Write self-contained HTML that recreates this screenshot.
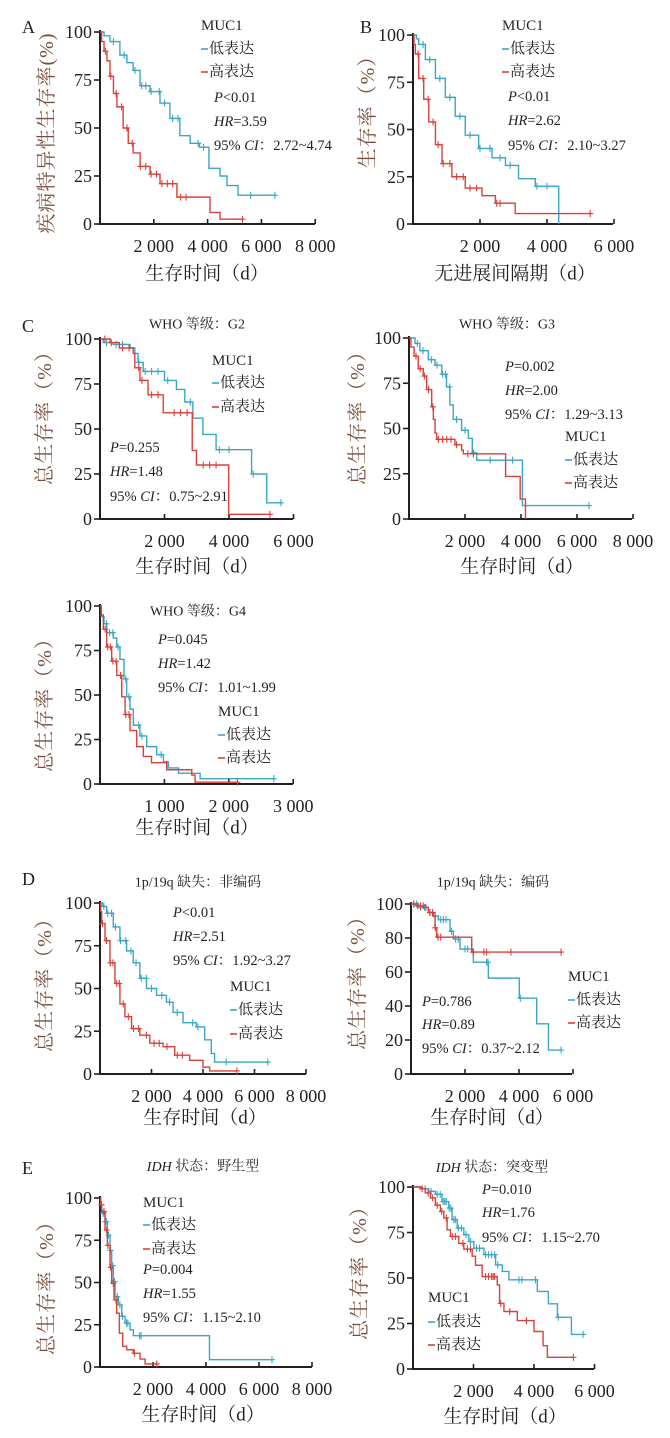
<!DOCTYPE html>
<html><head><meta charset="utf-8">
<style>
html,body{margin:0;padding:0;background:#fff;}
svg{display:block;}
text{font-family:"Liberation Serif","Noto Serif CJK SC",serif;fill:#231f20;}
.tk{font-size:18px;}
.ax{font-size:19px;}
.yt{font-size:20px;fill:#7a4e3c;letter-spacing:1px;}
.lg{font-size:15px;}
.st{font-size:14.5px;}
.tt{font-size:14px;}
.lt{font-size:18px;}
</style></head>
<body>
<svg id="fig" width="670" height="1438" viewBox="0 0 670 1438" xmlns="http://www.w3.org/2000/svg">
<g id="static">
<!-- A -->
<text class="lt" x="22" y="33">A</text>
<text class="yt" transform="translate(47,133) rotate(-90)" text-anchor="middle" dominant-baseline="central">疾病特异性生存率(%)</text>
<text class="ax" x="207" y="274" text-anchor="middle" dominant-baseline="central">生存时间（d）</text>
<text class="lg" x="201" y="26" dominant-baseline="central">MUC1</text>
<line x1="201" y1="49" x2="208" y2="49" stroke="#3aa7c4" stroke-width="1.6"/><text class="lg" x="209" y="49" dominant-baseline="central">低表达</text>
<line x1="201" y1="72" x2="208" y2="72" stroke="#d8423a" stroke-width="1.6"/><text class="lg" x="209" y="72" dominant-baseline="central">高表达</text>
<text class="st" x="214" y="98" dominant-baseline="central"><tspan font-style="italic">P</tspan>&lt;0.01</text>
<text class="st" x="214" y="122" dominant-baseline="central"><tspan font-style="italic">HR</tspan>=3.59</text>
<text class="st" x="214" y="146" dominant-baseline="central">95% <tspan font-style="italic">CI</tspan>：2.72~4.74</text>
<!-- B -->
<text class="lt" x="360" y="33">B</text>
<text class="yt" transform="translate(368,107) rotate(-90)" text-anchor="middle" dominant-baseline="central">生存率（%）</text>
<text class="ax" x="515" y="274" text-anchor="middle" dominant-baseline="central">无进展间隔期（d）</text>
<text class="lg" x="502" y="26" dominant-baseline="central">MUC1</text>
<line x1="502" y1="49" x2="509" y2="49" stroke="#3aa7c4" stroke-width="1.6"/><text class="lg" x="510" y="49" dominant-baseline="central">低表达</text>
<line x1="502" y1="72" x2="509" y2="72" stroke="#d8423a" stroke-width="1.6"/><text class="lg" x="510" y="72" dominant-baseline="central">高表达</text>
<text class="st" x="508" y="97" dominant-baseline="central"><tspan font-style="italic">P</tspan>&lt;0.01</text>
<text class="st" x="508" y="121" dominant-baseline="central"><tspan font-style="italic">HR</tspan>=2.62</text>
<text class="st" x="508" y="146" dominant-baseline="central">95% <tspan font-style="italic">CI</tspan>：2.10~3.27</text>
<!-- C G2 -->
<text class="lt" x="22" y="332">C</text>
<text class="tt" x="197" y="325" text-anchor="middle" dominant-baseline="central">WHO 等级：G2</text>
<text class="yt" transform="translate(45,413) rotate(-90)" text-anchor="middle" dominant-baseline="central">总生存率（%）</text>
<text class="ax" x="197" y="567" text-anchor="middle" dominant-baseline="central">生存时间（d）</text>
<text class="lg" x="212" y="361" dominant-baseline="central">MUC1</text>
<line x1="212" y1="383" x2="219" y2="383" stroke="#3aa7c4" stroke-width="1.6"/><text class="lg" x="220" y="383" dominant-baseline="central">低表达</text>
<line x1="212" y1="407" x2="219" y2="407" stroke="#d8423a" stroke-width="1.6"/><text class="lg" x="220" y="407" dominant-baseline="central">高表达</text>
<text class="st" x="110" y="448" dominant-baseline="central"><tspan font-style="italic">P</tspan>=0.255</text>
<text class="st" x="110" y="472" dominant-baseline="central"><tspan font-style="italic">HR</tspan>=1.48</text>
<text class="st" x="110" y="497" dominant-baseline="central">95% <tspan font-style="italic">CI</tspan>：0.75~2.91</text>
<!-- G3 -->
<text class="tt" x="507" y="325" text-anchor="middle" dominant-baseline="central">WHO 等级：G3</text>
<text class="yt" transform="translate(358,413) rotate(-90)" text-anchor="middle" dominant-baseline="central">总生存率（%）</text>
<text class="ax" x="522" y="567" text-anchor="middle" dominant-baseline="central">生存时间（d）</text>
<text class="st" x="505" y="367" dominant-baseline="central"><tspan font-style="italic">P</tspan>=0.002</text>
<text class="st" x="505" y="391" dominant-baseline="central"><tspan font-style="italic">HR</tspan>=2.00</text>
<text class="st" x="505" y="415" dominant-baseline="central">95% <tspan font-style="italic">CI</tspan>：1.29~3.13</text>
<text class="lg" x="565" y="437" dominant-baseline="central">MUC1</text>
<line x1="565" y1="460" x2="572" y2="460" stroke="#3aa7c4" stroke-width="1.6"/><text class="lg" x="573" y="460" dominant-baseline="central">低表达</text>
<line x1="565" y1="483" x2="572" y2="483" stroke="#d8423a" stroke-width="1.6"/><text class="lg" x="573" y="483" dominant-baseline="central">高表达</text>
<!-- G4 -->
<text class="tt" x="198" y="612" text-anchor="middle" dominant-baseline="central">WHO 等级：G4</text>
<text class="yt" transform="translate(45,700) rotate(-90)" text-anchor="middle" dominant-baseline="central">总生存率（%）</text>
<text class="ax" x="197" y="828" text-anchor="middle" dominant-baseline="central">生存时间（d）</text>
<text class="st" x="158" y="640" dominant-baseline="central"><tspan font-style="italic">P</tspan>=0.045</text>
<text class="st" x="158" y="664" dominant-baseline="central"><tspan font-style="italic">HR</tspan>=1.42</text>
<text class="st" x="158" y="688" dominant-baseline="central">95% <tspan font-style="italic">CI</tspan>：1.01~1.99</text>
<text class="lg" x="218" y="712" dominant-baseline="central">MUC1</text>
<line x1="218" y1="735" x2="225" y2="735" stroke="#3aa7c4" stroke-width="1.6"/><text class="lg" x="226" y="735" dominant-baseline="central">低表达</text>
<line x1="218" y1="758" x2="225" y2="758" stroke="#d8423a" stroke-width="1.6"/><text class="lg" x="226" y="758" dominant-baseline="central">高表达</text>
<!-- D left -->
<text class="lt" x="22" y="885">D</text>
<text class="tt" x="198" y="883" text-anchor="middle" dominant-baseline="central">1p/19q 缺失：非编码</text>
<text class="yt" transform="translate(45,980) rotate(-90)" text-anchor="middle" dominant-baseline="central">总生存率（%）</text>
<text class="ax" x="205" y="1118" text-anchor="middle" dominant-baseline="central">生存时间（d）</text>
<text class="st" x="173" y="913" dominant-baseline="central"><tspan font-style="italic">P</tspan>&lt;0.01</text>
<text class="st" x="173" y="937" dominant-baseline="central"><tspan font-style="italic">HR</tspan>=2.51</text>
<text class="st" x="173" y="961" dominant-baseline="central">95% <tspan font-style="italic">CI</tspan>：1.92~3.27</text>
<text class="lg" x="230" y="987" dominant-baseline="central">MUC1</text>
<line x1="230" y1="1010" x2="237" y2="1010" stroke="#3aa7c4" stroke-width="1.6"/><text class="lg" x="238" y="1010" dominant-baseline="central">低表达</text>
<line x1="230" y1="1034" x2="237" y2="1034" stroke="#d8423a" stroke-width="1.6"/><text class="lg" x="238" y="1034" dominant-baseline="central">高表达</text>
<!-- D right -->
<text class="tt" x="493" y="883" text-anchor="middle" dominant-baseline="central">1p/19q 缺失：编码</text>
<text class="yt" transform="translate(358,978) rotate(-90)" text-anchor="middle" dominant-baseline="central">总生存率（%）</text>
<text class="ax" x="492" y="1118" text-anchor="middle" dominant-baseline="central">生存时间（d）</text>
<text class="st" x="422" y="1002" dominant-baseline="central"><tspan font-style="italic">P</tspan>=0.786</text>
<text class="st" x="422" y="1025" dominant-baseline="central"><tspan font-style="italic">HR</tspan>=0.89</text>
<text class="st" x="422" y="1049" dominant-baseline="central">95% <tspan font-style="italic">CI</tspan>：0.37~2.12</text>
<text class="lg" x="568" y="977" dominant-baseline="central">MUC1</text>
<line x1="568" y1="1000" x2="575" y2="1000" stroke="#3aa7c4" stroke-width="1.6"/><text class="lg" x="576" y="1000" dominant-baseline="central">低表达</text>
<line x1="568" y1="1023" x2="575" y2="1023" stroke="#d8423a" stroke-width="1.6"/><text class="lg" x="576" y="1023" dominant-baseline="central">高表达</text>
<!-- E left -->
<text class="lt" x="22" y="1174">E</text>
<text class="tt" x="203" y="1167" text-anchor="middle" dominant-baseline="central"><tspan font-style="italic">IDH</tspan> 状态：野生型</text>
<text class="yt" transform="translate(47,1283) rotate(-90)" text-anchor="middle" dominant-baseline="central">总生存率（%）</text>
<text class="ax" x="203" y="1415" text-anchor="middle" dominant-baseline="central">生存时间（d）</text>
<text class="lg" x="143" y="1203" dominant-baseline="central">MUC1</text>
<line x1="143" y1="1225" x2="150" y2="1225" stroke="#3aa7c4" stroke-width="1.6"/><text class="lg" x="151" y="1225" dominant-baseline="central">低表达</text>
<line x1="143" y1="1249" x2="150" y2="1249" stroke="#d8423a" stroke-width="1.6"/><text class="lg" x="151" y="1249" dominant-baseline="central">高表达</text>
<text class="st" x="143" y="1270" dominant-baseline="central"><tspan font-style="italic">P</tspan>=0.004</text>
<text class="st" x="143" y="1294" dominant-baseline="central"><tspan font-style="italic">HR</tspan>=1.55</text>
<text class="st" x="143" y="1318" dominant-baseline="central">95% <tspan font-style="italic">CI</tspan>：1.15~2.10</text>
<!-- E right -->
<text class="tt" x="492" y="1168" text-anchor="middle" dominant-baseline="central"><tspan font-style="italic">IDH</tspan> 状态：突变型</text>
<text class="yt" transform="translate(360,1268) rotate(-90)" text-anchor="middle" dominant-baseline="central">总生存率（%）</text>
<text class="ax" x="505" y="1417" text-anchor="middle" dominant-baseline="central">生存时间（d）</text>
<text class="st" x="482" y="1190" dominant-baseline="central"><tspan font-style="italic">P</tspan>=0.010</text>
<text class="st" x="482" y="1213" dominant-baseline="central"><tspan font-style="italic">HR</tspan>=1.76</text>
<text class="st" x="482" y="1238" dominant-baseline="central">95% <tspan font-style="italic">CI</tspan>：1.15~2.70</text>
<text class="lg" x="428" y="1298" dominant-baseline="central">MUC1</text>
<line x1="428" y1="1322" x2="435" y2="1322" stroke="#3aa7c4" stroke-width="1.6"/><text class="lg" x="436" y="1322" dominant-baseline="central">低表达</text>
<line x1="428" y1="1345" x2="435" y2="1345" stroke="#d8423a" stroke-width="1.6"/><text class="lg" x="436" y="1345" dominant-baseline="central">高表达</text>
</g>
</svg>
<script>
// ---- data (days, survival %) ----
const xTicks8000 = [2000, 4000, 6000, 8000];
const xTicks6000 = [2000, 4000, 6000];
const xTicks3000 = [1000, 2000, 3000];
const xLabels8000 = ["2 000", "4 000", "6 000", "8 000"];
const xLabels6000 = ["2 000", "4 000", "6 000"];
const xLabels3000 = ["1 000", "2 000", "3 000"];
const yTicks25 = [0, 25, 50, 75, 100];
const yTicks20 = [0, 20, 40, 60, 80, 100];

const A_lowT = [150,370,740,1000,1230,1490,1860,2230,2600,2970,3350,3700,4050,4460,4720,5130,6500];
const A_lowS = [98,95,88,84,80,72,69,63,55,46,42,40,29,25,20,15,15];
const A_lowC = [500,900,1300,1550,1700,1900,2200,2400,2700,2900,3650,3850,5600,6500];
const A_highT = [60,150,260,370,500,630,860,1050,1230,1490,1860,2230,2860,4090,4460,5320];
const A_highS = [95,90,85,77,68,61,50,42,37,30,26,21,14,6,2.5,2.5];
const A_highC = [200,400,600,800,1000,1200,1500,1700,1900,2100,2300,2500,2700,3000,3200,5300];

const B_lowT = [100,170,370,670,965,1260,1560,1960,2360,2760,3150,3650,4350];
const B_lowS = [98,95,87,77,67,57,47,40,35,31,24,20,0];
const B_lowC = [300,500,800,1100,1400,1700,2000,2300,2600,2900,3700,4000];
const B_highT = [30,70,170,320,470,670,865,1160,1560,2060,2460,3050,5290];
const B_highS = [95,90,77,66,54,42,32,25,19,15,11,5.5,5.5];
const B_highC = [150,300,450,600,750,900,1100,1300,1500,1700,1900,2500,2600,5290];

const G2_lowT = [100,410,930,1080,1180,1340,2000,2370,2630,2880,3190,3600,4700,5170,5610];
const G2_lowS = [98,97,95,92,87,82,77,72,65,56,47,38.5,25,9,9];
const G2_lowC = [200,500,700,1200,1400,1600,1800,2100,2800,3700,4000,4750,5610];
const G2_highT = [310,600,1030,1080,1240,1490,1960,2860,2990,3990,5270];
const G2_highS = [98,95,92,84,77,69,59,38,30,2.6,2.6];
const G2_highC = [150,350,700,900,1200,1300,1600,1800,2300,2500,2700,3200,3400,3600,5270];

const G3_lowT = [214,390,690,930,1170,1340,1460,1580,1880,2120,2260,2420,4050,6430];
const G3_lowS = [97,93,88,85,80,73,63,55,49,44.5,36.5,32.5,7.4,7.4];
const G3_lowC = [300,500,800,1000,1200,1300,1450,1700,2000,2300,2900,3700,6430];
const G3_highT = [70,180,330,510,630,810,870,930,990,1640,1880,1940,3450,3970,4160];
const G3_highS = [95,90,83,79,71.5,62,55,47.5,44,41,38,36,23.5,11,0];
const G3_highC = [250,400,550,700,850,1050,1200,1350,1500,1700,2100,2300];

const G4_lowT = [20,62,104,207,260,310,373,414,466,518,620,725,880,985,1060,1220,1555,2700];
const G4_lowS = [94,90,85,82,77,70,59,49,42,33,27,21,16.5,12.5,9,6,3,3];
const G4_lowC = [100,150,200,280,400,450,600,650,950,2700];
const G4_highT = [20,52,104,181,260,337,390,466,570,673,800,1035,1425,1476,2134];
const G4_highS = [95,87,77,69,61,49,39,30,21,15.5,12,8,5,1,1];
const G4_highC = [80,120,160,200,250,320,400,450,2134];

const D1_lowT = [100,258,516,774,1032,1290,1548,1806,2193,2580,2838,3225,3741,4064,4321,4450,6515];
const D1_lowS = [98,94,86,78,72,65,56,50,46,42,36,30,27.5,20,12,7,7];
const D1_lowC = [150,300,450,600,800,1000,1200,1400,1600,1800,2000,2400,2700,3000,3600,3800,4900,6515];
const D1_highT = [30,65,194,387,580,774,967,1225,1548,1935,2451,2902,3483,4000,4257,5315];
const D1_highS = [95,88,78,65,53,41,33.5,26.6,22.7,18,16,11,8,4,1.8,1.8];
const D1_highC = [100,250,400,500,650,750,900,1100,1300,1500,1800,2100,2300,2600,3000,3200,5315];

const D2_lowT = [270,640,890,1010,1445,1570,1815,2310,2865,4010,4655,5090,5560];
const D2_lowS = [98,95,93,90.8,84,79.4,73.5,65.8,56.4,44.6,29.5,14.1,14.1];
const D2_lowC = [100,200,350,500,700,900,1100,1200,1300,1500,1650,1750,2000,2100,2800,2850,4050,5560];
const D2_highT = [200,457,640,827,890,950,2250,5560];
const D2_highS = [99,98,95,92.7,86,80.5,71.7,71.7];
const D2_highC = [100,250,350,450,550,700,800,900,1000,1100,2300,2700,2800,3700,5560];

const E1_lowT = [30,63,190,277,378,441,504,567,693,819,945,1134,1260,4130,6490];
const E1_lowS = [96,91,86,78,69,60,50.5,41.7,36.7,30,26,22,18.5,4.3,4.3];
const E1_lowC = [50,120,200,250,320,400,480,550,650,750,850,1000,1050,1500,1550,6490];
const E1_highT = [30,63,190,277,378,441,529,630,731,857,1008,1260,1512,1700,2142];
const E1_highS = [96,92,81,72,59,49.5,39.7,31.8,20,12.2,10.2,8.2,4.7,1.8,1.8];
const E1_highC = [60,150,250,300,400,500,600,1300,2142];

const E2_lowT = [298,520,740,961,1182,1293,1460,1680,1845,2011,2343,2730,2950,3171,4110,4475,4774,5237,5624];
const E2_lowS = [99,97.6,96,92,88.4,82,77.4,73.8,70,66.4,62.8,57.2,53.6,49,42.6,35.8,28.4,19,19];
const E2_lowC = [400,600,800,900,1000,1050,1100,1200,1250,1350,1400,1500,1600,1750,1900,2100,2200,2400,2500,2600,2700,2800,3500,3600,4050,4800,5624];
const E2_highT = [250,409,575,740,906,1017,1127,1238,1514,1680,1956,2066,2287,2785,2862,3006,3448,4000,4300,4442,5304];
const E2_highS = [99,96.7,94,90,86.6,83,76.5,72.8,69,65.9,62,57,50.8,46.2,36,31.6,26.6,20.6,12.8,6.4,6.4];
const E2_highC = [300,500,650,800,950,1100,1300,1400,1650,1800,1900,2400,2500,2600,2650,2700,2900,3200,3750,5304];

const BLUE = "#3aa7c4", RED = "#d8423a";
const svg = document.getElementById('fig');
const NS = "http://www.w3.org/2000/svg";
function mk(tag, attrs, parent) {
  const e = document.createElementNS(NS, tag);
  for (const k in attrs) e.setAttribute(k, attrs[k]);
  (parent || svg).appendChild(e);
  return e;
}
function stepVal(T, S, t) {
  let v = 100;
  for (let i = 0; i < T.length; i++) { if (T[i] <= t) v = S[i]; else break; }
  return v;
}
function panel(id, geo, yTicks, xTicks, xLabels, curves) {
  const g = mk('g', {});
  
  
  const xs = t => geo.x0 + t * geo.per;
  const ys = v => geo.yBot - (v / geo.yMax) * (geo.yBot - geo.yTop);
  // axes
  const axes = mk('path', {d: `M${geo.x0},${geo.yTop - 2}V${geo.yBot}H${geo.xEnd}`, fill: 'none', stroke: '#231f20', 'stroke-width': 2}, g);
  
  
  yTicks.forEach(v => {
    mk('line', {x1: geo.x0 - 6, x2: geo.x0, y1: ys(v), y2: ys(v), stroke: '#231f20', 'stroke-width': 1.6}, g);
    const t = mk('text', {x: geo.x0 - 8, y: ys(v), 'text-anchor': 'end', 'dominant-baseline': 'central', class: 'tk'}, g);
    t.textContent = String(v);
    
    
  });
  xTicks.forEach((v, i) => {
    mk('line', {x1: xs(v), x2: xs(v), y1: geo.yBot - 5, y2: geo.yBot, stroke: '#231f20', 'stroke-width': 1.6}, g);
    const t = mk('text', {x: xs(v), y: geo.yBot + 22, 'text-anchor': 'middle', 'dominant-baseline': 'central', class: 'tk'}, g);
    t.textContent = xLabels[i];
    
    
  });
  curves.forEach(c => {
    let d = `M${xs(0)},${ys(100)}`;
    let prev = 100;
    for (let i = 0; i < c.T.length; i++) {
      d += `H${xs(c.T[i])}`;
      if (c.S[i] !== prev) { d += `V${ys(c.S[i])}`; prev = c.S[i]; }
    }
    const p = mk('path', {d: d, fill: 'none', stroke: c.col, 'stroke-width': 1.4}, g);
    
    
    let cd = '';
    c.C.forEach(t => {
      const x = xs(t), y = ys(stepVal(c.T, c.S, t));
      cd += `M${x - 3},${y}H${x + 3}M${x},${y - 3.5}V${y + 3.5}`;
    });
    const cm = mk('path', {d: cd, fill: 'none', stroke: c.col, 'stroke-width': 1.1}, g);
    
    
  });
}
panel('a', {x0:100, per:53.8/2000, xEnd:315, yTop:32, yBot:224, yMax:100}, yTicks25, xTicks8000, xLabels8000,
  [{name:'low', col:BLUE, T:A_lowT, S:A_lowS, C:A_lowC}, {name:'high', col:RED, T:A_highT, S:A_highS, C:A_highC}]);
panel('b', {x0:413, per:67/2000, xEnd:613, yTop:35, yBot:224, yMax:100}, yTicks25, xTicks6000, xLabels6000,
  [{name:'low', col:BLUE, T:B_lowT, S:B_lowS, C:B_lowC}, {name:'high', col:RED, T:B_highT, S:B_highS, C:B_highC}]);
panel('g2', {x0:100, per:64.5/2000, xEnd:293, yTop:339, yBot:519, yMax:100}, yTicks25, xTicks6000, xLabels6000,
  [{name:'low', col:BLUE, T:G2_lowT, S:G2_lowS, C:G2_lowC}, {name:'high', col:RED, T:G2_highT, S:G2_highS, C:G2_highC}]);
panel('g3', {x0:409, per:56/2000, xEnd:632, yTop:338, yBot:519, yMax:100}, yTicks25, xTicks8000, xLabels8000,
  [{name:'low', col:BLUE, T:G3_lowT, S:G3_lowS, C:G3_lowC}, {name:'high', col:RED, T:G3_highT, S:G3_highS, C:G3_highC}]);
panel('g4', {x0:100, per:64.4/1000, xEnd:293, yTop:606, yBot:784, yMax:100}, yTicks25, xTicks3000, xLabels3000,
  [{name:'low', col:BLUE, T:G4_lowT, S:G4_lowS, C:G4_lowC}, {name:'high', col:RED, T:G4_highT, S:G4_highS, C:G4_highC}]);
panel('d1', {x0:100, per:51.5/2000, xEnd:306, yTop:903, yBot:1074, yMax:100}, yTicks25, xTicks8000, xLabels8000,
  [{name:'low', col:BLUE, T:D1_lowT, S:D1_lowS, C:D1_lowC}, {name:'high', col:RED, T:D1_highT, S:D1_highS, C:D1_highC}]);
panel('d2', {x0:411, per:54/2000, xEnd:572, yTop:904, yBot:1074, yMax:100}, yTicks20, xTicks6000, xLabels6000,
  [{name:'low', col:BLUE, T:D2_lowT, S:D2_lowS, C:D2_lowC}, {name:'high', col:RED, T:D2_highT, S:D2_highS, C:D2_highC}]);
panel('e1', {x0:100, per:53/2000, xEnd:312, yTop:1198, yBot:1367, yMax:100}, yTicks25, xTicks8000, xLabels8000,
  [{name:'low', col:BLUE, T:E1_lowT, S:E1_lowS, C:E1_lowC}, {name:'high', col:RED, T:E1_highT, S:E1_highS, C:E1_highC}]);
panel('e2', {x0:413, per:60.5/2000, xEnd:594, yTop:1187, yBot:1369, yMax:100}, yTicks25, xTicks6000, xLabels6000,
  [{name:'low', col:BLUE, T:E2_lowT, S:E2_lowS, C:E2_lowC}, {name:'high', col:RED, T:E2_highT, S:E2_highS, C:E2_highC}]);
</script>
</body></html>
